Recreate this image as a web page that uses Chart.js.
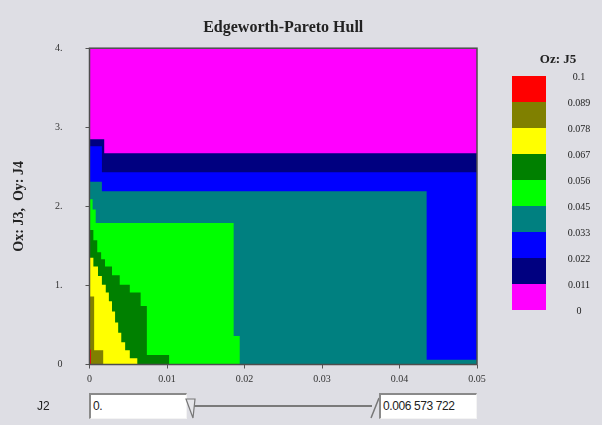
<!DOCTYPE html>
<html>
<head>
<meta charset="utf-8">
<script src="https://cdn.jsdelivr.net/npm/chart.js@4.4.0/dist/chart.umd.min.js"></script>
<style>
  html, body { margin: 0; padding: 0; background: #dedee4; }
  #wrap { position: relative; width: 602px; height: 425px; overflow: hidden; }
  canvas { position: absolute; left: 0; top: 0; }
  .lbl { position: absolute; font: 12px "Liberation Sans", sans-serif; color: #222; }
  .box {
    position: absolute; top: 393px; height: 26px; width: 98px;
    background: #fff; box-sizing: border-box;
    border-top: 2px solid #8a8a8a; border-left: 2px solid #8a8a8a;
    border-right: 1px solid #f4f4f4; border-bottom: 1px solid #f4f4f4;
    font: 12px "Liberation Sans", sans-serif; line-height: 22px;
    padding-left: 2px; color: #222; letter-spacing: -0.4px;
  }
</style>
</head>
<body>
<div id="wrap">
  <canvas id="hull" width="602" height="425"></canvas>
  <div class="lbl" style="left:37px;top:399px">J2</div>
  <div class="box" id="j2min" style="left:89px"></div>
  <svg style="position:absolute;left:184px;top:395px" width="198" height="26">
    <line x1="10" y1="11" x2="188" y2="11" stroke="#7a7a7a" stroke-width="2"/>
    <polygon points="2,4 11,4 9,23" fill="#e6e6ea" stroke="#777" stroke-width="1.2"/>
    <line x1="187" y1="23" x2="195" y2="3" stroke="#777" stroke-width="1.5"/>
  </svg>
  <div class="box" id="j2max" style="left:379px"></div>
</div>
<script>
// J5 colour bar, from the bottom (0) to the top (0.1)
const j5Levels = ['0', '0.011', '0.022', '0.033', '0.045', '0.056', '0.067', '0.078', '0.089', '0.1'];
const j5Colors = ['#ff00ff', '#000080', '#0000ff', '#008080', '#00ff00', '#008000', '#ffff00', '#808000', '#ff0000'];

// staircase corners [J3, J4] of the hull for each J5 band
const hullMagenta = [[0, 4], [0.05, 4]];
const hullNavy = [[0, 2.85], [0.0019, 2.67], [0.05, 2.67]];
const hullBlue = [[0, 2.76], [0.0016, 2.43], [0.05, 2.43]];
const hullTeal = [[0, 2.31], [0.0016, 2.19], [0.0435, 0.06], [0.05, 0.06]];
const hullLime = [[0, 2.09], [0.0004, 1.96], [0.0008, 1.79], [0.0186, 0.36], [0.0194, 0]];
const hullGreen = [[0, 1.70], [0.0005, 1.57], [0.0010, 1.42], [0.0015, 1.33], [0.0020, 1.24], [0.0029, 1.13],
  [0.0039, 1.01], [0.0052, 0.91], [0.0066, 0.74], [0.0074, 0.12], [0.0103, 0]];
const hullYellow = [[0, 1.35], [0.0005, 1.24], [0.0011, 1.12], [0.0016, 1.01], [0.0021, 0.91], [0.0025, 0.80],
  [0.0029, 0.67], [0.0033, 0.53], [0.0037, 0.40], [0.0041, 0.28], [0.0046, 0.18], [0.0052, 0.08], [0.0062, 0]];
const hullOlive = [[0, 0.86], [0.0006, 0.18], [0.0018, 0]];
const hullRed = [[0, 0.19], [0.0002, 0]];

const xTicks = [0, 0.01, 0.02, 0.03, 0.04, 0.05];
const yTicks = [0, 1, 2, 3, 4];
const j2Range = ['0.', '0.006 573 722'];

document.getElementById('j2min').textContent = j2Range[0];
document.getElementById('j2max').textContent = j2Range[1];

const hulls = [hullMagenta, hullNavy, hullBlue, hullTeal, hullLime, hullGreen, hullYellow, hullOlive, hullRed];

// magenta at the bottom, red on top
// ('before' in chart.js = go across first, then drop)
const datasets = hulls.map((pts, i) => ({
  label: j5Levels[i],
  data: pts.map(([x, y]) => ({ x, y })),
  stepped: 'before',
  fill: 'origin',
  backgroundColor: j5Colors[i],
  borderWidth: 0,
  pointRadius: 0,
  order: hulls.length - 1 - i,
}));

const serif = 'Liberation Serif';

const hullFrame = {
  id: 'hullFrame',
  afterDatasetsDraw(chart) {
    const { ctx, chartArea: a } = chart;
    ctx.save();
    ctx.strokeStyle = '#4d4d4d';
    ctx.lineWidth = 1.5;
    ctx.strokeRect(a.left, a.top, a.right - a.left, a.bottom - a.top);
    ctx.restore();
  }
};

// colour bar on the right
const colorBar = {
  id: 'colorBar',
  afterDraw(chart) {
    const ctx = chart.ctx;
    const left = 512, top = 76, w = 34, h = 26;
    const n = j5Colors.length;
    ctx.save();
    for (let i = 0; i < n; i++) {
      ctx.fillStyle = j5Colors[n - 1 - i];
      ctx.fillRect(left, top + i * h, w, h);
    }
    ctx.fillStyle = '#222';
    ctx.textAlign = 'center';
    ctx.textBaseline = 'middle';
    ctx.font = '10px "' + serif + '"';
    for (let i = 0; i < j5Levels.length; i++) {
      ctx.fillText(j5Levels[j5Levels.length - 1 - i], 579, top + 1 + i * h);
    }
    ctx.font = 'bold 13px "' + serif + '"';
    ctx.fillText('Oz: J5', 558, 60);
    ctx.restore();
  }
};

new Chart(document.getElementById('hull'), {
  type: 'line',
  data: { datasets },
  options: {
    responsive: false,
    animation: false,
    layout: { padding: { left: 8, right: 125, top: 0, bottom: 0 } },
    plugins: {
      legend: { display: false },
      tooltip: { enabled: false },
      title: {
        display: true,
        text: 'Edgeworth-Pareto Hull',
        fullSize: false,
        color: '#222',
        font: { family: serif, size: 16, weight: 'bold' },
        padding: { top: 18, bottom: 11 }
      }
    },
    scales: {
      x: {
        type: 'linear',
        min: 0,
        max: 0.05,
        afterFit: s => { s.height = 60.5; },
        afterBuildTicks: s => { s.ticks = xTicks.map(v => ({ value: v })); },
        grid: { drawOnChartArea: false, tickLength: 4, color: '#555' },
        border: { display: false },
        ticks: {
          padding: 5,
          color: '#333',
          maxRotation: 0,
          autoSkip: false,
          font: { family: serif, size: 10 },
          callback: v => v === 0 ? '0' : v.toFixed(2)
        }
      },
      y: {
        type: 'linear',
        min: 0,
        max: 4,
        afterFit: s => { s.width = 81.5; },
        afterBuildTicks: s => { s.ticks = yTicks.map(v => ({ value: v })); },
        grid: { drawOnChartArea: false, tickLength: 4, color: '#555' },
        border: { display: false },
        ticks: {
          padding: 23,
          color: '#333',
          font: { family: serif, size: 10 },
          callback: v => v === 0 ? '0' : v + '.'
        },
        title: {
          display: true,
          text: 'Ox: J3,  Oy: J4',
          color: '#222',
          font: { family: serif, size: 14, weight: 'bold' },
          padding: { top: 3, bottom: 0 }
        }
      }
    }
  },
  plugins: [hullFrame, colorBar]
});
</script>
</body>
</html>
